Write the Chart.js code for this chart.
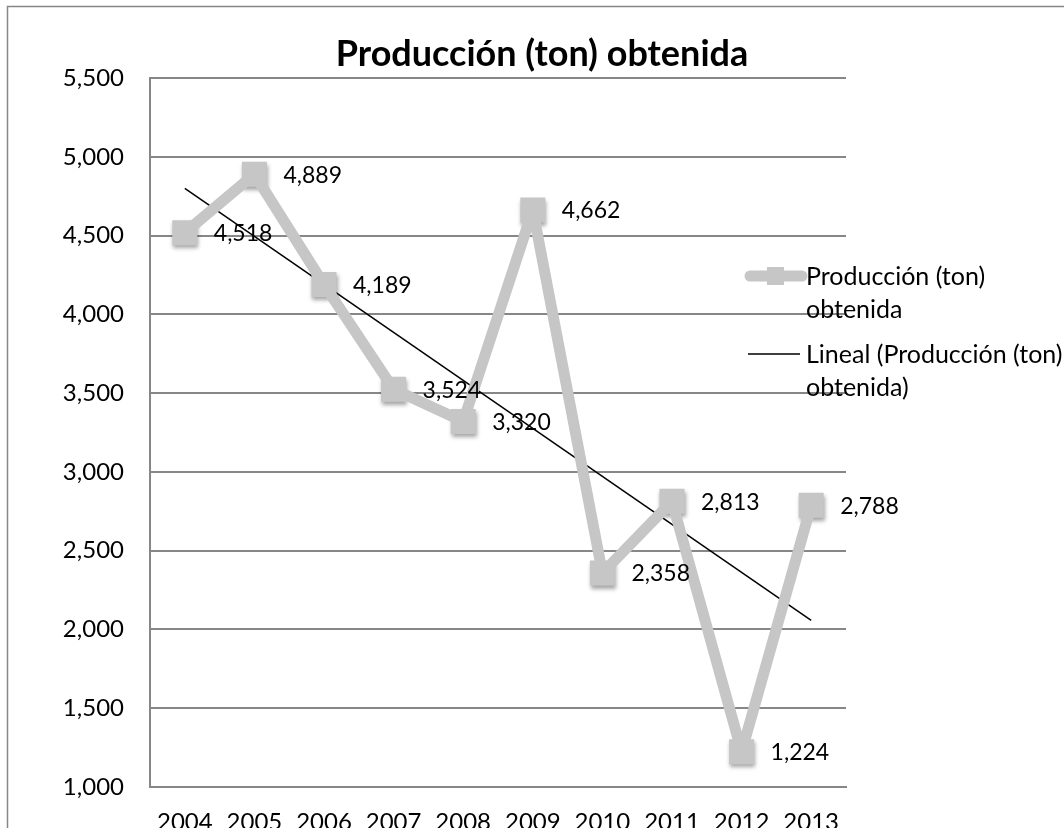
<!DOCTYPE html>
<html>
<head>
<meta charset="utf-8">
<script src="https://cdn.jsdelivr.net/npm/chart.js@4/dist/chart.umd.min.js"></script>
<style>
  html, body { margin: 0; padding: 0; background: #fff; overflow: hidden; }
  canvas { display: block; }
</style>
</head>
<body>
<canvas id="chart" width="1064" height="860"></canvas>
<script>
// values
var years = ['2004', '2005', '2006', '2007', '2008', '2009', '2010', '2011', '2012', '2013'];
var produccion = [4518, 4889, 4189, 3524, 3320, 4662, 2358, 2813, 1224, 2788];
// linear trend line (Excel "Lineal"), end points
var tendencia = [4799, null, null, null, null, null, null, null, null, 2058];
var yTicks = [1000, 1500, 2000, 2500, 3000, 3500, 4000, 4500, 5000, 5500];

var FONT = 'Lato, "Open Sans", sans-serif';
var GRID = '#878787';
var SERIE = '#c6c6c6';

function fmt(v) {
    return Number(v).toLocaleString('en-US');
}

// frame, title, legend, value labels and marker shadow
var extras = {
    id: 'extras',
    beforeDraw: function(chart) {
        var ctx = chart.ctx;
        ctx.save();
        ctx.fillStyle = '#fff';
        ctx.fillRect(0, 0, chart.width, chart.height);
        ctx.strokeStyle = GRID;
        ctx.lineWidth = 1.5;
        ctx.strokeRect(7.5, 6.5, chart.width + 20, chart.height + 20);
        ctx.restore();
    },
    beforeDatasetDraw: function(chart, args) {
        if (args.index === 1) {
            var ctx = chart.ctx;
            ctx.save();
            ctx.shadowColor = 'rgba(0,0,0,0.35)';
            ctx.shadowBlur = 4;
            ctx.shadowOffsetX = 1;
            ctx.shadowOffsetY = 3;
        }
    },
    afterDatasetDraw: function(chart, args) {
        if (args.index === 1) chart.ctx.restore();
    },
    afterDraw: function(chart) {
        var ctx = chart.ctx;
        var area = chart.chartArea;
        ctx.save();

        // title
        ctx.fillStyle = '#000';
        ctx.font = 'bold 36px ' + FONT;
        ctx.textAlign = 'center';
        ctx.textBaseline = 'middle';
        ctx.fillText('Producción (ton) obtenida', 542, 54);

        // value labels to the right of each marker
        ctx.font = '23px ' + FONT;
        ctx.textAlign = 'left';
        var meta = chart.getDatasetMeta(1);
        meta.data.forEach(function(pt, i) {
            ctx.fillText(fmt(produccion[i]), pt.x + 29, pt.y + 1);
        });

        // legend (drawn over the plot, as in the original)
        var lx = area.right - 40;
        ctx.strokeStyle = SERIE;
        ctx.lineWidth = 11;
        ctx.lineCap = 'round';
        ctx.beginPath();
        ctx.moveTo(lx - 56, 276);
        ctx.lineTo(lx - 4, 276);
        ctx.stroke();
        ctx.fillStyle = SERIE;
        ctx.fillRect(lx - 39, 267, 17, 18);
        ctx.strokeStyle = '#000';
        ctx.lineWidth = 1.5;
        ctx.lineCap = 'butt';
        ctx.beginPath();
        ctx.moveTo(lx - 58, 354);
        ctx.lineTo(lx - 6, 354);
        ctx.stroke();
        ctx.fillStyle = '#000';
        ctx.font = '25px ' + FONT;
        ctx.fillText('Producción (ton)', lx, 277);
        ctx.fillText('obtenida', lx, 310);
        ctx.fillText('Lineal (Producción (ton)', lx, 355);
        ctx.fillText('obtenida)', lx, 388);
        ctx.restore();
    }
};

new Chart(document.getElementById('chart'), {
    type: 'line',
    data: {
        labels: years,
        datasets: [{
            label: 'Producción (ton) obtenida',
            data: produccion,
            borderColor: SERIE,
            borderWidth: 11,
            borderCapStyle: 'round',
            borderJoinStyle: 'round',
            pointRadius: 0,
            fill: false,
            tension: 0
        }, {
            label: 'Producción (ton) obtenida',
            data: produccion,
            showLine: false,
            pointStyle: 'rect',
            pointRadius: 17.7,
            pointBackgroundColor: SERIE,
            pointBorderWidth: 0,
            pointBorderColor: SERIE
        }, {
            label: 'Lineal (Producción (ton) obtenida)',
            data: tendencia,
            spanGaps: true,
            borderColor: '#000',
            borderWidth: 1.5,
            pointRadius: 0,
            fill: false,
            tension: 0
        }]
    },
    options: {
        responsive: false,
        animation: false,
        devicePixelRatio: 1,
        layout: { padding: { top: 78, right: 218, left: 0, bottom: 0 } },
        plugins: {
            legend: { display: false },
            title: { display: false },
            tooltip: { enabled: false }
        },
        scales: {
            x: {
                offset: true,
                grid: { display: false, drawTicks: false },
                border: { color: GRID, width: 2 },
                ticks: {
                    color: '#000',
                    font: { family: FONT, size: 24 },
                    padding: 21,
                    maxRotation: 0
                },
                afterFit: function(scale) { scale.height = 73; }
            },
            y: {
                min: 1000,
                max: 5500,
                afterBuildTicks: function(scale) {
                    scale.ticks = yTicks.map(function(v) { return { value: v }; });
                },
                grid: { color: GRID, lineWidth: 2, drawTicks: false },
                border: { color: GRID, width: 2 },
                ticks: {
                    color: '#000',
                    font: { family: FONT, size: 24 },
                    padding: 26,
                    callback: function(v) { return fmt(v); }
                },
                afterFit: function(scale) { scale.width = 150; }
            }
        }
    },
    plugins: [extras]
});
</script>
</body>
</html>
